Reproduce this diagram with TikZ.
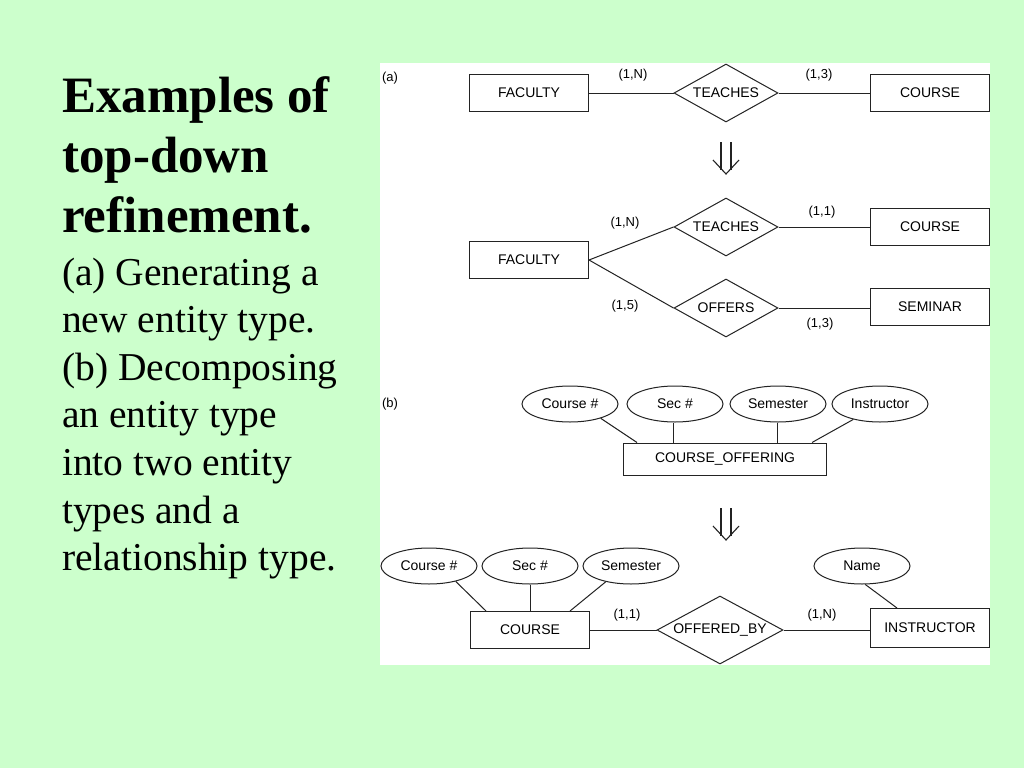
\documentclass[tikz,border=0pt]{standalone}
\usepackage{fontspec}
\setmainfont{Liberation Serif}
\newfontfamily\diagfont{Liberation Sans}
\usetikzlibrary{shapes.geometric}
\definecolor{bg}{RGB}{204,255,204}
\definecolor{ink}{RGB}{35,35,35}
\begin{document}
\begin{tikzpicture}[x=1pt,y=-1pt,
  ent/.style={draw=ink,line width=1pt,rectangle,inner sep=0pt,minimum width=119pt,minimum height=37pt,font=\diagfont\fontsize{14}{16}\selectfont},
  rel/.style={draw=ink,line width=1pt,diamond,aspect=2.2,inner sep=0pt,minimum width=104pt,minimum height=58pt,font=\diagfont\fontsize{14}{16}\selectfont},
  attr/.style={draw=ink,line width=1pt,ellipse,inner sep=0pt,minimum width=96pt,minimum height=36pt,font=\diagfont\fontsize{14}{16}\selectfont},
  lbl/.style={inner sep=0pt,font=\diagfont\fontsize{13}{15}\selectfont},
  conn/.style={draw=ink,line width=1pt},
  dblarrow/.style={draw=ink,line width=1.1pt},
  ttl/.style={anchor=base west,inner sep=0pt,font=\bfseries\fontsize{51}{60}\selectfont},
  body/.style={anchor=base west,inner sep=0pt,font=\fontsize{39.5}{47}\selectfont}]
\fill[bg] (0,0) rectangle (1024,768);
\useasboundingbox (0,0) rectangle (1024,768);
\fill[white] (380,63) rectangle (990,665);
% left text
\node[ttl] (t1) at (62,112) {Examples of};
\node[ttl] (t2) at (62,172) {top-down};
\node[ttl] (t3) at (62,232) {refinement.};
\node[body] (b1) at (62,285) {(a) Generating a};
\node[body] (b2) at (62,332) {new entity type.};
\node[body] (b3) at (62,380) {(b) Decomposing};
\node[body] (b4) at (62,427) {an entity type};
\node[body] (b5) at (62,475) {into two entity};
\node[body] (b6) at (62,523) {types and a};
\node[body] (b7) at (62,570) {relationship type.};
% (a) top
\node[lbl] (la) at (390,78) {(a)};
\node[ent] (fac1) at (529,93) {FACULTY};
\node[rel] (tea1) at (726,93) {TEACHES};
\node[ent] (cou1) at (930,93) {COURSE};
\draw[conn] (fac1.east) -- (tea1.west);
\draw[conn] (tea1.east) -- (cou1.west);
\node[lbl] (c1) at (633,75) {(1,N)};
\node[lbl] (c2) at (819,75) {(1,3)};
% double arrow 1
\coordinate (d1) at (726,142);
\draw[dblarrow] (d1) ++(-5,0) -- ++(0,28);
\draw[dblarrow] (d1) ++(5,0) -- ++(0,28);
\draw[dblarrow,line join=miter] (d1) ++(-13,18) -- ++(13,14) -- ++(13,-14);
% (a) refined
\node[ent] (fac2) at (529,260) {FACULTY};
\node[rel] (tea2) at (726,227) {TEACHES};
\node[ent] (cou2) at (930,227) {COURSE};
\node[rel] (off) at (726,308) {OFFERS};
\node[ent] (sem) at (930,307) {SEMINAR};
\draw[conn] (fac2.east) -- (tea2.west);
\draw[conn] (fac2.east) -- (off.west);
\draw[conn] (tea2.east) -- (cou2.west);
\draw[conn] (off.east) -- (off.east -| sem.west);
\node[lbl] (c3) at (625,223) {(1,N)};
\node[lbl] (c4) at (822,212) {(1,1)};
\node[lbl] (c5) at (625,306) {(1,5)};
\node[lbl] (c6) at (820,324) {(1,3)};
% (b)
\node[lbl] (lb) at (390,404) {(b)};
\node[attr] (a1) at (570,404) {Course \#};
\node[attr] (a2) at (675,404) {Sec \#};
\node[attr] (a3) at (778,404) {Semester};
\node[attr] (a4) at (880,404) {Instructor};
\node[ent,minimum width=203pt,minimum height=32pt] (co) at (725,459) {COURSE\_OFFERING};
\draw[conn] (a1.-25) -- (co.north west -| 637,0);
\draw[conn] (a2.south -| 673,0) -- (co.north -| 673,0);
\draw[conn] (a3.south -| 777,0) -- (co.north -| 777,0);
\draw[conn] (a4.-150) -- (co.north -| 812,0);
% double arrow 2
\coordinate (d2) at (726,508);
\draw[dblarrow] (d2) ++(-5,0) -- ++(0,28);
\draw[dblarrow] (d2) ++(5,0) -- ++(0,28);
\draw[dblarrow,line join=miter] (d2) ++(-13,18) -- ++(13,14) -- ++(13,-14);
% (b) result
\node[attr] (e1) at (429,566) {Course \#};
\node[attr] (e2) at (530,566) {Sec \#};
\node[attr] (e3) at (631,566) {Semester};
\node[attr] (e4) at (862,566) {Name};
\node[ent,minimum height=37pt] (cou3) at (530,630) {COURSE};
\node[rel,minimum width=126pt,minimum height=68pt] (ob) at (720,630) {OFFERED\_BY};
\node[ent,minimum height=39pt] (ins) at (930,628) {INSTRUCTOR};
\draw[conn] (e1.-30) -- (cou3.north -| 486,0);
\draw[conn] (e2.south) -- (cou3.north);
\draw[conn] (e3.-148) -- (cou3.north -| 570,0);
\draw[conn] (e4.-80) -- (ins.north -| 897,0);
\draw[conn] (cou3.east) -- (ob.west);
\draw[conn] (ob.east) -- (ob.east -| ins.west);
\node[lbl] (c7) at (627,615) {(1,1)};
\node[lbl] (c8) at (822,615) {(1,N)};
\end{tikzpicture}
\end{document}
